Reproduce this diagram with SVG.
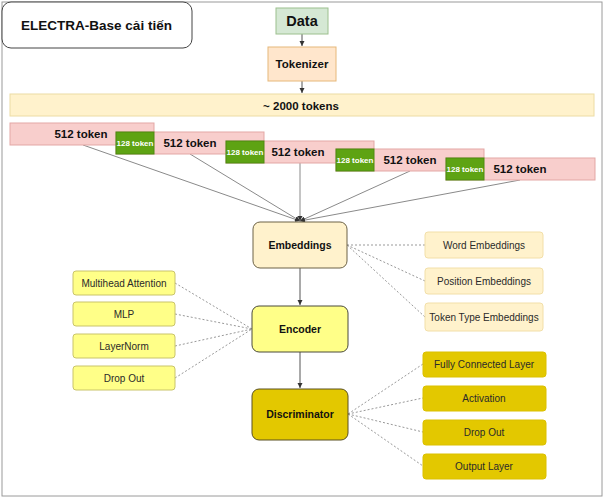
<svg xmlns="http://www.w3.org/2000/svg" width="605" height="499" viewBox="0 0 605 499">
<defs>
<marker id="arr" markerWidth="6" markerHeight="6" refX="5" refY="3" orient="auto" markerUnits="userSpaceOnUse">
<path d="M0,0.5 L5,3 L0,5.5 Z" fill="#333"/>
</marker>
<style>
text{font-family:"Liberation Sans",Arial,sans-serif;text-anchor:middle;dominant-baseline:central}
.b{font-weight:bold}
.pink{fill:#f8cecc;stroke:#e3a7a5;stroke-width:1}
.green{fill:#5ea313;stroke:#4c8a10;stroke-width:1}
.gt{font-size:8px;font-weight:bold;fill:#fff}
.pt{font-size:11.5px;font-weight:bold;fill:#111}
.fan{stroke:#8a8a8a;stroke-width:1;fill:none}
.arrow{stroke:#555;stroke-width:1;fill:none;marker-end:url(#arr)}
.dot{stroke:#999;stroke-width:1;stroke-dasharray:2 2;fill:none}
.side{font-size:10px;fill:#2a2a2a}
.main{font-size:10.5px;font-weight:bold;fill:#111}
.ylw{fill:#ffff88;stroke:#c9c46a;stroke-width:1}
.emb{fill:#fff2cc;stroke:#f2dfa8;stroke-width:1}
.gold{fill:#e3c800;stroke:#dbc000;stroke-width:1}
</style>
</defs>
<rect x="2" y="2" width="600" height="494" fill="#fff" stroke="#9a9a9a" stroke-width="1"/>

<g id="title">
<rect x="2" y="2" width="190" height="46" rx="9" fill="#fff" stroke="#444" stroke-width="1"/>
<text x="96.5" y="25" class="b" font-size="13.5" fill="#111">ELECTRA-Base cải tiến</text>
</g>

<g id="connectors">
<line x1="302" y1="34" x2="302" y2="46" class="arrow"/>
<line x1="302" y1="81" x2="302" y2="93" class="arrow"/>
<line x1="83" y1="145" x2="300" y2="221" class="fan" marker-end="url(#arr)"/>
<line x1="190" y1="154" x2="300" y2="221" class="fan" marker-end="url(#arr)"/>
<line x1="300" y1="163" x2="300" y2="221" class="fan" marker-end="url(#arr)"/>
<line x1="410" y1="171" x2="300" y2="221" class="fan" marker-end="url(#arr)"/>
<line x1="520" y1="180" x2="300" y2="221" class="fan" marker-end="url(#arr)"/>
<line x1="300" y1="268" x2="300" y2="305" class="arrow"/>
<line x1="300" y1="352" x2="300" y2="388" class="arrow"/>
<line x1="347" y1="245" x2="425" y2="245" class="dot"/>
<line x1="347" y1="245" x2="425" y2="281" class="dot"/>
<line x1="347" y1="245" x2="425" y2="317" class="dot"/>
<line x1="175" y1="283" x2="252" y2="329" class="dot"/>
<line x1="175" y1="314" x2="252" y2="329" class="dot"/>
<line x1="175" y1="346" x2="252" y2="329" class="dot"/>
<line x1="175" y1="378" x2="252" y2="329" class="dot"/>
<line x1="348" y1="414" x2="423" y2="364" class="dot"/>
<line x1="348" y1="414" x2="423" y2="398" class="dot"/>
<line x1="348" y1="414" x2="423" y2="432" class="dot"/>
<line x1="348" y1="414" x2="423" y2="466" class="dot"/>
</g>

<g id="data">
<rect x="276" y="8" width="52" height="26" fill="#d5e8d4" stroke="#9cc08e" stroke-width="1"/>
<text x="302" y="21" class="b" font-size="14.5" fill="#111">Data</text>
</g>
<g id="tokenizer">
<rect x="268" y="47" width="68" height="34" fill="#ffe6cc" stroke="#e6b87a" stroke-width="1"/>
<text x="302" y="64" class="b" font-size="11.5" fill="#111">Tokenizer</text>
</g>
<g id="tokens2000">
<rect x="10" y="94" width="584" height="22" fill="#fff2cc" stroke="#ecdca4" stroke-width="1"/>
<text x="301" y="105.5" class="b" font-size="11.5" fill="#111">~ 2000 tokens</text>
</g>

<g id="chunk1"><rect x="10" y="123" width="144" height="22" class="pink"/><text x="81" y="134" class="pt">512 token</text></g>
<g id="chunk2"><rect x="116" y="132" width="148" height="22" class="pink"/><text x="190" y="143" class="pt">512 token</text></g>
<g id="overlap1"><rect x="116" y="132" width="38" height="22" class="green"/><text x="135" y="143" class="gt">128 token</text></g>
<g id="chunk3"><rect x="226" y="141" width="148" height="22" class="pink"/><text x="298" y="152" class="pt">512 token</text></g>
<g id="overlap2"><rect x="226" y="141" width="38" height="22" class="green"/><text x="245" y="152" class="gt">128 token</text></g>
<g id="chunk4"><rect x="336" y="149" width="148" height="22" class="pink"/><text x="410" y="160" class="pt">512 token</text></g>
<g id="overlap3"><rect x="336" y="149" width="38" height="22" class="green"/><text x="355" y="160" class="gt">128 token</text></g>
<g id="chunk5"><rect x="446" y="158" width="149" height="22" class="pink"/><text x="520" y="169" class="pt">512 token</text></g>
<g id="overlap4"><rect x="446" y="158" width="38" height="22" class="green"/><text x="465" y="169" class="gt">128 token</text></g>

<g id="embeddings">
<rect x="253" y="222" width="94" height="46" rx="7" fill="#fff2cc" stroke="#6d6347" stroke-width="1"/>
<text x="300" y="245" class="main">Embeddings</text>
</g>
<g id="encoder">
<rect x="252" y="306" width="96" height="46" rx="7" fill="#ffff88" stroke="#4a4a3a" stroke-width="1"/>
<text x="300" y="329" class="main">Encoder</text>
</g>
<g id="discriminator">
<rect x="252" y="389" width="96" height="51" rx="7" fill="#e3c800" stroke="#5a5020" stroke-width="1"/>
<text x="300" y="414" class="main">Discriminator</text>
</g>

<g id="multihead"><rect x="73" y="271" width="102" height="24" rx="3" class="ylw"/><text x="124" y="283" class="side">Multihead Attention</text></g>
<g id="mlp"><rect x="73" y="302" width="102" height="24" rx="3" class="ylw"/><text x="124" y="314" class="side">MLP</text></g>
<g id="layernorm"><rect x="73" y="334" width="102" height="24" rx="3" class="ylw"/><text x="124" y="346" class="side">LayerNorm</text></g>
<g id="dropout-enc"><rect x="73" y="366" width="102" height="24" rx="3" class="ylw"/><text x="124" y="378" class="side">Drop Out</text></g>

<g id="word-emb"><rect x="425" y="232" width="118" height="26" rx="3" class="emb"/><text x="484" y="245" class="side">Word Embeddings</text></g>
<g id="pos-emb"><rect x="425" y="268" width="118" height="26" rx="3" class="emb"/><text x="484" y="281" class="side">Position Embeddings</text></g>
<g id="type-emb"><rect x="425" y="303" width="118" height="28" rx="3" class="emb"/><text x="484" y="317" class="side">Token Type Embeddings</text></g>

<g id="fc"><rect x="423" y="352" width="123" height="25" rx="3" class="gold"/><text x="484" y="364.5" class="side">Fully Connected Layer</text></g>
<g id="activation"><rect x="423" y="386" width="123" height="25" rx="3" class="gold"/><text x="484" y="398.5" class="side">Activation</text></g>
<g id="dropout-dis"><rect x="423" y="420" width="123" height="25" rx="3" class="gold"/><text x="484" y="432.5" class="side">Drop Out</text></g>
<g id="output"><rect x="423" y="454" width="123" height="25" rx="3" class="gold"/><text x="484" y="466.5" class="side">Output Layer</text></g>
</svg>
